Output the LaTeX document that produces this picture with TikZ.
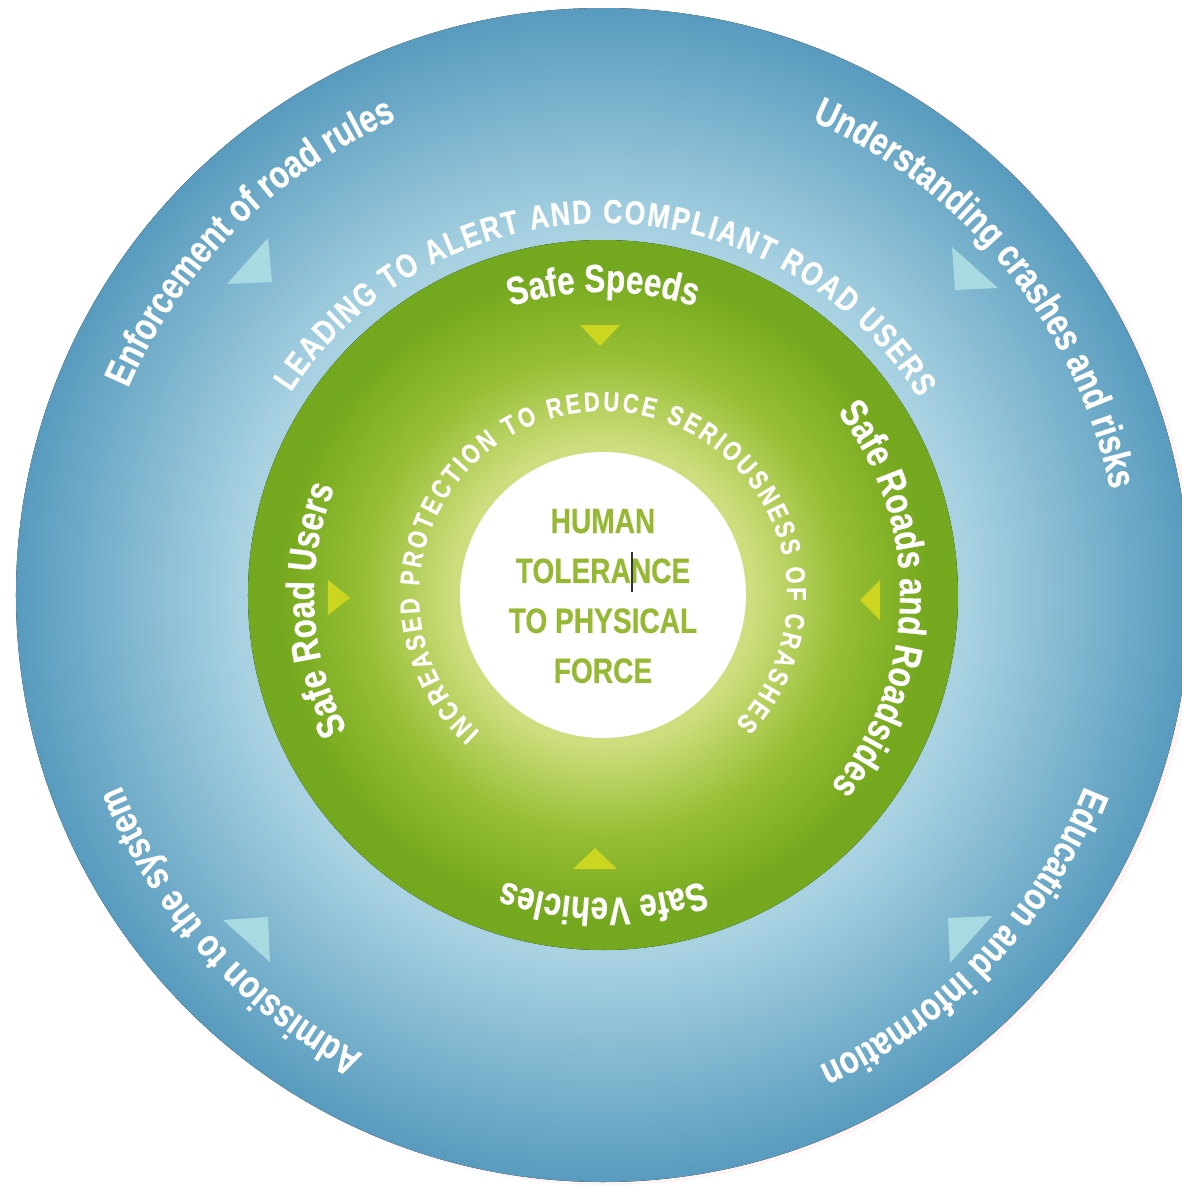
\documentclass[tikz,border=0pt]{standalone}
\usepackage{fontspec}
\usetikzlibrary{decorations.text}
\newfontfamily\condfont{Liberation Sans}[FakeStretch=0.8, BoldFeatures={FakeBold=0.4}]
\newcommand\outerfont{\condfont\bfseries\fontsize{11.1}{13}\selectfont}
\newcommand\greenfont{\condfont\bfseries\fontsize{11.2}{12}\selectfont}
\newcommand\capsfont{\condfont\bfseries\fontsize{9.5}{11}\selectfont}
\newcommand\innerfont{\condfont\bfseries\fontsize{7.8}{9}\selectfont}
\definecolor{bluedark}{RGB}{88,155,190}
\definecolor{bluelight}{RGB}{168,210,226}
\definecolor{greendark}{RGB}{116,168,30}
\definecolor{greenmid}{RGB}{150,190,52}
\definecolor{greenlight}{RGB}{206,222,126}
\definecolor{tipblue}{RGB}{168,218,226}
\definecolor{tipyellow}{RGB}{204,214,32}
\definecolor{coretext}{RGB}{150,185,52}
\pgfdeclareradialshading{bluering}{\pgfpoint{0bp}{0bp}}{color(0bp)=(bluelight); color(15.5bp)=(bluelight); color(25bp)=(bluedark); color(50bp)=(bluedark)}
\pgfdeclareradialshading{greenring}{\pgfpoint{0bp}{0bp}}{color(0bp)=(greenlight); color(10.5bp)=(greenlight); color(17bp)=(greenmid); color(23bp)=(greendark); color(50bp)=(greendark)}
\tikzset{
  ringlabel/.style={decorate, decoration={text along path, text align=center, text color=white, text={#1}}},
  spacedlabel/.style={decorate, decoration={text along path, text align={fit to path}, text color=white, text={#1}}},
  bluetip/.style={fill=tipblue},
  greentip/.style={fill=tipyellow},
  caret/.style={draw=black!80, line width=0.35pt}
}
\begin{document}
\begin{tikzpicture}
\useasboundingbox[fill=white] (-6.03,-5.93) rectangle (5.79,5.95);
\fill[red!10, opacity=0.45] (0.04,-0.02) circle (5.88);
\fill[shading=bluering] (0,0) circle (5.87);
\fill[shading=greenring] (0,0) circle (3.55);
\fill[white] (0,0) circle (1.43);

\fill[bluetip] (-3.35,3.57) -- (-3.31,3.13) -- (-3.76,3.11) -- cycle;
\fill[bluetip] (3.49,3.48) -- (3.52,3.05) -- (3.95,3.07) -- cycle;
\fill[bluetip] (3.45,-3.23) -- (3.89,-3.21) -- (3.47,-3.68) -- cycle;
\fill[bluetip] (-3.80,-3.25) -- (-3.35,-3.22) -- (-3.33,-3.67) -- cycle;

\fill[greentip] (-0.23,2.70) -- (0.17,2.70) -- (-0.03,2.49) -- cycle;
\fill[greentip] (-0.30,-2.74) -- (0.14,-2.74) -- (-0.08,-2.53) -- cycle;
\fill[greentip] (-2.75,0.15) -- (-2.75,-0.20) -- (-2.53,-0.03) -- cycle;
\fill[greentip] (2.77,0.15) -- (2.77,-0.25) -- (2.57,-0.05) -- cycle;

\path[ringlabel={|\outerfont|Enforcement of road rules}] (175:5.18) arc[start angle=175, end angle=95, radius=5.18];
\path[ringlabel={|\outerfont|Understanding crashes and risks}] (79:5.18) arc[start angle=79, end angle=-1, radius=5.18];
\path[ringlabel={|\outerfont|Education and information}] (-3.5:5.18) arc[start angle=-3.5, end angle=-83.5, radius=5.18];
\path[ringlabel={|\outerfont|Admission to the system}] (262:5.18) arc[start angle=262, end angle=182, radius=5.18];

\path[spacedlabel={|\capsfont|LEADING TO ALERT AND COMPLIANT ROAD USERS}] (147:3.72) arc[start angle=147, end angle=32, radius=3.72];

\path[ringlabel={|\greenfont|Safe Speeds}] (130:3.03) arc[start angle=130, end angle=50, radius=3.03];
\path[ringlabel={|\greenfont|Safe Roads and Roadsides}] (50:2.97) arc[start angle=50, end angle=-52, radius=2.97];
\path[ringlabel={|\greenfont|Safe Vehicles}] (-50:3.03) arc[start angle=-50, end angle=-130, radius=3.03];
\path[ringlabel={|\greenfont|Safe Road Users}] (230:2.89) arc[start angle=230, end angle=136, radius=2.89];

\path[spacedlabel={|\innerfont|INCREASED PROTECTION TO REDUCE SERIOUSNESS OF CRASHES}] (228:1.84) arc[start angle=228, end angle=-44, radius=1.84];

\node[font=\condfont\bfseries\fontsize{10}{14.2}\selectfont, text=coretext, align=center] (core) at (0,-0.01) {HUMAN\\TOLERANCE\\TO PHYSICAL\\FORCE};
\coordinate (caretTop) at (0.29,0.43);
\coordinate (caretBot) at (0.29,0.03);
\draw[caret] (caretTop) -- (caretBot);
\end{tikzpicture}
\end{document}
